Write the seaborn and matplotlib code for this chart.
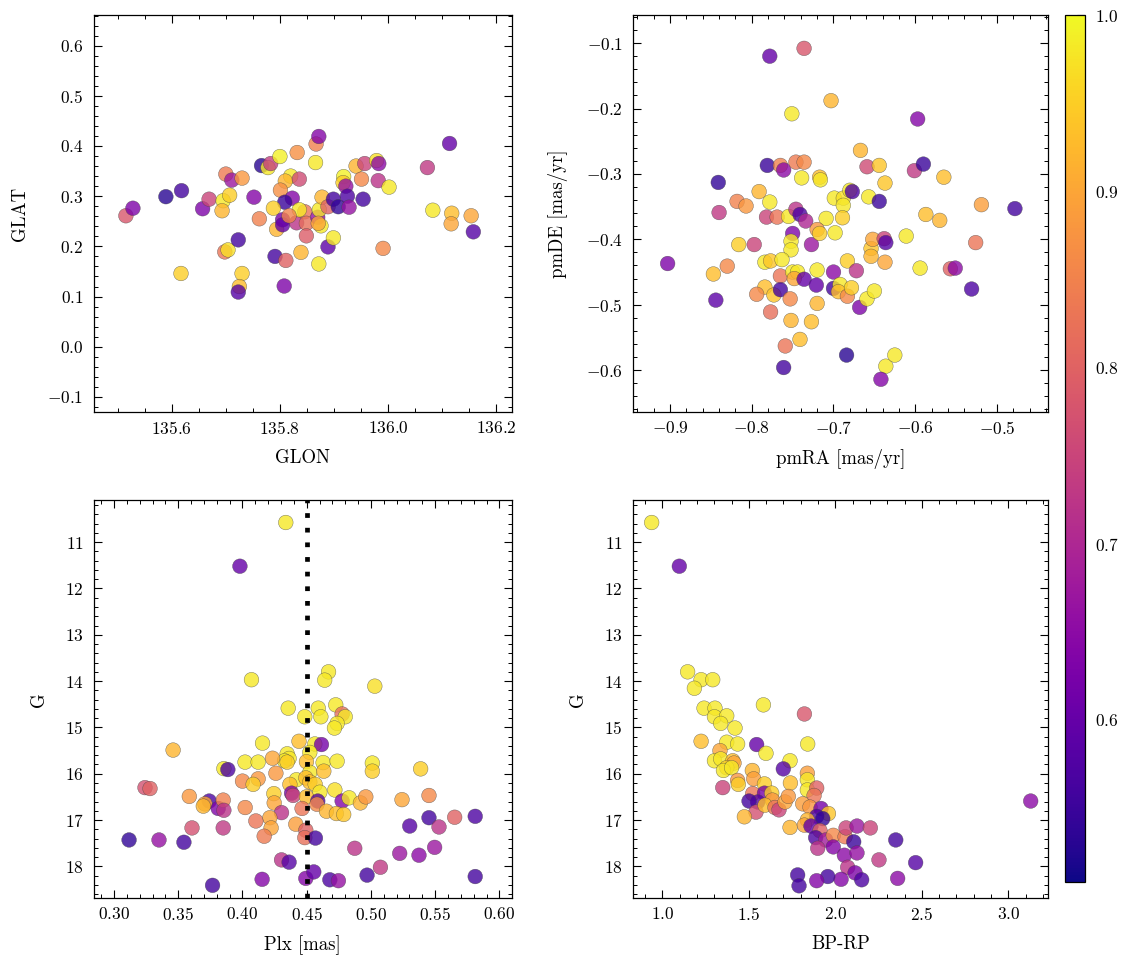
import matplotlib
matplotlib.use("Agg")
import matplotlib.pyplot as plt
import seaborn as sns
import pandas as pd
from matplotlib.colors import Normalize
from matplotlib.cm import ScalarMappable
from matplotlib.ticker import MultipleLocator, AutoMinorLocator

# ---------------- data ----------------
glon = [135.515, 135.528, 135.589, 135.618, 135.617, 135.657, 135.669, 135.695, 135.693, 135.707,
        135.700, 135.711, 135.730, 135.698, 135.704, 135.723, 135.730, 135.725, 135.723, 135.752,
        135.762, 135.766, 135.778, 135.783, 135.800, 135.832, 135.820, 135.810, 135.836, 135.801,
        135.823, 135.809, 135.788, 135.794, 135.791, 135.811, 135.808, 135.839, 135.805, 135.805,
        135.831, 135.846, 135.836, 135.849, 135.849, 135.817, 135.870, 135.873, 135.876, 135.871,
        135.866, 135.867, 135.872, 135.872, 135.878, 135.889, 135.899, 135.908, 135.889, 135.899,
        135.918, 135.917, 135.922, 135.925, 135.928, 135.941, 135.957, 135.951, 135.954, 135.979,
        135.983, 135.982, 136.002, 135.991, 136.073, 136.114, 136.083, 136.118, 136.117, 136.154,
        136.158]
glat = [0.261, 0.276, 0.299, 0.311, 0.146, 0.275, 0.294, 0.291, 0.271, 0.302,
        0.344, 0.332, 0.336, 0.189, 0.193, 0.213, 0.146, 0.120, 0.109, 0.298,
        0.255, 0.361, 0.357, 0.365, 0.379, 0.387, 0.340, 0.330, 0.334, 0.312,
        0.296, 0.288, 0.276, 0.234, 0.180, 0.172, 0.121, 0.188, 0.253, 0.243,
        0.247, 0.269, 0.273, 0.246, 0.221, 0.261, 0.258, 0.273, 0.241, 0.246,
        0.367, 0.404, 0.419, 0.165, 0.298, 0.279, 0.294, 0.279, 0.199, 0.217,
        0.339, 0.327, 0.320, 0.300, 0.278, 0.360, 0.365, 0.334, 0.294, 0.371,
        0.365, 0.331, 0.318, 0.196, 0.357, 0.405, 0.272, 0.266, 0.245, 0.261,
        0.229]
prob_sky = [0.78, 0.63, 0.53, 0.56, 0.95, 0.63, 0.75, 0.98, 0.92, 0.95,
            0.84, 0.67, 0.88, 0.83, 0.97, 0.56, 0.95, 0.93, 0.58, 0.64,
            0.85, 0.53, 0.98, 0.74, 0.99, 0.87, 0.98, 0.92, 0.76, 0.87,
            0.64, 0.55, 0.95, 0.92, 0.56, 0.80, 0.63, 0.92, 0.62, 0.60,
            0.72, 0.83, 0.98, 0.82, 0.79, 0.85, 0.66, 0.98, 0.98, 0.90,
            0.98, 0.85, 0.64, 0.98, 0.92, 0.80, 0.56, 0.54, 0.59, 0.98,
            0.99, 0.95, 0.66, 0.57, 0.66, 0.92, 0.75, 0.86, 0.56, 0.97,
            0.65, 0.72, 0.98, 0.86, 0.73, 0.60, 0.98, 0.93, 0.90, 0.90,
            0.58]

pmra = [-0.778, -0.736, -0.703, -0.751, -0.597, -0.667, -0.781, -0.765, -0.761, -0.746,
        -0.736, -0.739, -0.717, -0.716, -0.659, -0.644, -0.637, -0.601, -0.590, -0.565,
        -0.841, -0.791, -0.778, -0.818, -0.807, -0.840, -0.782, -0.769, -0.755, -0.746,
        -0.741, -0.734, -0.709, -0.699, -0.688, -0.688, -0.689, -0.680, -0.677, -0.657,
        -0.644, -0.587, -0.570, -0.519, -0.478, -0.750, -0.752, -0.752, -0.727, -0.720,
        -0.717, -0.698, -0.816, -0.797, -0.903, -0.847, -0.830, -0.784, -0.777, -0.763,
        -0.765, -0.750, -0.744, -0.748, -0.736, -0.720, -0.721, -0.700, -0.683, -0.672,
        -0.784, -0.794, -0.773, -0.765, -0.753, -0.844, -0.777, -0.720, -0.700, -0.692,
        -0.694, -0.683, -0.678, -0.668, -0.659, -0.650, -0.752, -0.727, -0.741, -0.759,
        -0.761, -0.684, -0.636, -0.625, -0.642, -0.654, -0.654, -0.652, -0.638, -0.636,
        -0.637, -0.611, -0.594, -0.557, -0.551, -0.531, -0.526]
pmde = [-0.120, -0.108, -0.188, -0.208, -0.216, -0.264, -0.287, -0.287, -0.294, -0.282,
        -0.282, -0.306, -0.305, -0.309, -0.289, -0.287, -0.314, -0.295, -0.285, -0.305,
        -0.313, -0.327, -0.343, -0.342, -0.349, -0.359, -0.366, -0.366, -0.365, -0.354,
        -0.362, -0.372, -0.368, -0.337, -0.337, -0.348, -0.367, -0.325, -0.327, -0.335,
        -0.342, -0.362, -0.371, -0.347, -0.353, -0.391, -0.403, -0.416, -0.408, -0.385,
        -0.391, -0.390, -0.408, -0.408, -0.437, -0.453, -0.441, -0.435, -0.433, -0.431,
        -0.456, -0.450, -0.450, -0.460, -0.461, -0.447, -0.470, -0.450, -0.433, -0.448,
        -0.473, -0.484, -0.485, -0.477, -0.491, -0.493, -0.511, -0.498, -0.475, -0.469,
        -0.480, -0.487, -0.474, -0.504, -0.491, -0.479, -0.524, -0.526, -0.553, -0.563,
        -0.596, -0.577, -0.594, -0.577, -0.614, -0.414, -0.426, -0.400, -0.399, -0.405,
        -0.435, -0.395, -0.444, -0.445, -0.444, -0.476, -0.405]
prob_pm = [0.60, 0.78, 0.92, 0.98, 0.64, 0.92, 0.55, 0.85, 0.65, 0.84,
           0.86, 0.98, 0.93, 0.98, 0.76, 0.94, 0.94, 0.73, 0.55, 0.93,
           0.54, 0.92, 0.98, 0.85, 0.88, 0.73, 0.75, 0.83, 0.98, 0.72,
           0.57, 0.70, 0.98, 0.98, 0.97, 0.98, 0.95, 0.98, 0.57, 0.98,
           0.55, 0.93, 0.92, 0.89, 0.56, 0.63, 0.98, 0.98, 0.67, 0.88,
           0.95, 0.98, 0.95, 0.75, 0.63, 0.93, 0.86, 0.98, 0.94, 0.98,
           0.83, 0.98, 0.98, 0.90, 0.60, 0.98, 0.60, 0.65, 0.95, 0.72,
           0.93, 0.86, 0.94, 0.56, 0.86, 0.59, 0.82, 0.92, 0.56, 0.98,
           0.93, 0.86, 0.95, 0.63, 0.98, 0.98, 0.92, 0.93, 0.93, 0.83,
           0.56, 0.53, 0.98, 0.98, 0.64, 0.94, 0.92, 0.90, 0.75, 0.58,
           0.90, 0.98, 0.98, 0.80, 0.65, 0.57, 0.83]

plx = [0.4337, 0.398, 0.407, 0.467, 0.464, 0.503, 0.4356, 0.459, 0.4726, 0.461,
       0.4485, 0.4776, 0.480, 0.4737, 0.4716, 0.4156, 0.444, 0.4563, 0.4615, 0.4524,
       0.346, 0.4348, 0.4363, 0.4327, 0.4498, 0.4628, 0.4737, 0.5011, 0.5011, 0.5387,
       0.4234, 0.4348, 0.402, 0.4122, 0.3855, 0.3886, 0.426, 0.4524, 0.4633, 0.400,
       0.4122, 0.4083, 0.442, 0.4493, 0.4369, 0.4524, 0.4566, 0.4602, 0.4719, 0.3241,
       0.328, 0.3586, 0.3741, 0.3708, 0.3695, 0.3811, 0.385, 0.3855, 0.4244, 0.4247,
       0.4382, 0.4394, 0.4498, 0.4586, 0.458, 0.4776, 0.483, 0.4918, 0.496, 0.5242,
       0.5452, 0.4021, 0.4304, 0.4213, 0.4223, 0.4104, 0.4169, 0.4415, 0.4464, 0.4654,
       0.4731, 0.4788, 0.4493, 0.4485, 0.4568, 0.3607, 0.385, 0.3117, 0.335, 0.3544,
       0.4304, 0.4363, 0.4153, 0.3767, 0.4493, 0.4555, 0.468, 0.4747, 0.4874, 0.497,
       0.5074, 0.5224, 0.5374, 0.5496, 0.5302, 0.5452, 0.553, 0.5652, 0.5812, 0.5812]
gmag_plx = [10.576, 11.52, 13.97, 13.80, 13.98, 14.11, 14.585, 14.585, 14.513, 14.77,
            14.77, 14.71, 14.77, 14.914, 15.014, 15.34, 15.30, 15.358, 15.37, 15.54,
            15.49, 15.57, 15.67, 15.72, 15.74, 15.76, 15.73, 15.77, 15.945, 15.895,
            15.666, 15.75, 15.75, 15.75, 15.89, 15.91, 15.99, 15.97, 15.945, 16.16,
            16.11, 16.23, 16.13, 16.09, 16.23, 16.18, 16.23, 16.40, 16.35, 16.30,
            16.32, 16.49, 16.59, 16.65, 16.70, 16.75, 16.57, 16.79, 16.43, 16.63,
            16.42, 16.47, 16.50, 16.59, 16.66, 16.59, 16.52, 16.63, 16.50, 16.56,
            16.47, 16.73, 16.84, 16.95, 17.17, 17.02, 17.35, 17.09, 16.75, 16.81,
            16.86, 16.88, 17.22, 17.38, 17.39, 17.17, 17.17, 17.43, 17.43, 17.48,
            17.86, 17.91, 18.28, 18.41, 18.26, 18.12, 18.29, 18.31, 17.61, 18.19,
            18.02, 17.72, 17.76, 17.59, 17.13, 16.95, 17.15, 16.94, 16.92, 18.22]
prob_plx = [0.98, 0.60, 0.98, 0.98, 0.98, 0.97, 0.98, 0.98, 0.98, 0.98,
            0.98, 0.82, 0.98, 0.98, 0.98, 0.98, 0.93, 0.98, 0.62, 0.98,
            0.92, 0.98, 0.98, 0.98, 0.93, 0.98, 0.98, 0.98, 0.95, 0.95,
            0.90, 0.95, 0.98, 0.98, 0.98, 0.57, 0.88, 0.98, 0.93, 0.86,
            0.88, 0.95, 0.98, 0.93, 0.93, 0.93, 0.95, 0.98, 0.97, 0.77,
            0.80, 0.88, 0.57, 0.90, 0.92, 0.63, 0.85, 0.72, 0.95, 0.90,
            0.63, 0.75, 0.93, 0.58, 0.86, 0.64, 0.98, 0.92, 0.88, 0.90,
            0.86, 0.86, 0.72, 0.90, 0.90, 0.83, 0.84, 0.89, 0.83, 0.92,
            0.93, 0.94, 0.80, 0.82, 0.56, 0.77, 0.73, 0.54, 0.66, 0.56,
            0.72, 0.58, 0.64, 0.56, 0.64, 0.60, 0.57, 0.66, 0.72, 0.56,
            0.73, 0.67, 0.65, 0.67, 0.58, 0.56, 0.72, 0.80, 0.57, 0.56]
plx_cut = 0.45

bprp = [0.938, 1.098, 1.146, 1.224, 1.291, 1.185, 1.241, 1.304, 1.301, 1.372,
        1.337, 1.42, 1.584, 1.821, 1.224, 1.372, 1.435, 1.545, 1.599, 1.84,
        1.333, 1.301, 1.337, 1.407, 1.414, 1.372, 1.353, 1.40, 1.435, 1.439,
        1.738, 1.699, 1.52, 1.528, 1.59, 1.74, 1.838, 1.838, 1.838, 1.892,
        1.877, 1.349, 1.522, 1.59, 1.632, 1.636, 1.551, 1.501, 1.541, 1.593,
        1.651, 1.674, 1.709, 1.728, 1.474, 1.811, 1.853, 1.917, 1.96, 1.892,
        1.927, 1.838, 1.738, 1.821, 1.859, 1.911, 1.886, 1.944, 1.988, 2.056,
        2.062, 2.125, 2.202, 2.106, 1.898, 1.988, 2.052, 2.125, 2.252, 2.349,
        2.464, 2.071, 2.114, 2.152, 2.033, 1.956, 1.892, 1.782, 1.79, 2.36,
        3.129]
gmag_cmd = [10.576, 11.52, 13.80, 13.97, 13.97, 14.155, 14.585, 14.585, 14.77, 14.75,
            14.914, 15.014, 14.513, 14.71, 15.30, 15.32, 15.358, 15.37, 15.56, 15.358,
            15.50, 15.72, 15.68, 15.72, 15.77, 15.87, 15.93, 15.87, 16.145, 16.23,
            15.72, 15.895, 15.93, 16.11, 16.22, 16.20, 15.99, 16.13, 16.35, 16.31,
            16.47, 16.30, 16.43, 16.42, 16.42, 16.57, 16.61, 16.59, 16.83, 16.68,
            16.73, 16.78, 16.61, 16.49, 16.93, 16.65, 16.72, 16.75, 16.86, 16.92,
            16.97, 17.00, 17.16, 17.11, 17.13, 17.23, 17.38, 17.43, 17.33, 17.36,
            17.17, 17.13, 17.17, 17.47, 17.61, 17.58, 17.76, 17.71, 17.86, 17.43,
            17.92, 18.02, 18.14, 18.29, 18.28, 18.22, 18.31, 18.185, 18.42, 18.26,
            16.59]
prob_cmd = [0.98, 0.60, 0.98, 0.98, 0.98, 0.98, 0.98, 0.98, 0.98, 0.98,
            0.98, 0.98, 0.98, 0.78, 0.93, 0.98, 0.98, 0.60, 0.98, 0.98,
            0.90, 0.98, 0.98, 0.93, 0.90, 0.95, 0.98, 0.98, 0.88, 0.95,
            0.98, 0.58, 0.92, 0.89, 0.95, 0.93, 0.89, 0.98, 0.98, 0.80,
            0.83, 0.75, 0.83, 0.62, 0.95, 0.88, 0.58, 0.56, 0.77, 0.93,
            0.83, 0.75, 0.90, 0.88, 0.92, 0.89, 0.88, 0.62, 0.94, 0.57,
            0.54, 0.92, 0.92, 0.90, 0.60, 0.80, 0.57, 0.68, 0.86, 0.84,
            0.75, 0.67, 0.75, 0.55, 0.72, 0.64, 0.65, 0.66, 0.73, 0.56,
            0.58, 0.72, 0.63, 0.57, 0.64, 0.56, 0.64, 0.56, 0.56, 0.65,
            0.65]

prob_min, prob_max = 0.508, 1.0

# ---------------- style ----------------
sns.set_theme(style="white")
TICK_FS = 12.5
LABEL_FS = 13.5
plt.rcParams.update({
    "font.family": "serif",
    "font.serif": ["cmr10"],
    "mathtext.fontset": "cm",
    "axes.formatter.use_mathtext": True,
    "axes.unicode_minus": True,
    "font.size": TICK_FS,
    "axes.labelsize": LABEL_FS,
    "xtick.labelsize": TICK_FS,
    "ytick.labelsize": TICK_FS,
    "axes.edgecolor": "black",
    "axes.linewidth": 0.9,
    "xtick.direction": "in",
    "ytick.direction": "in",
    "xtick.top": True,
    "ytick.right": True,
    "xtick.bottom": True,
    "ytick.left": True,
    "xtick.major.size": 5.5,
    "ytick.major.size": 5.5,
    "xtick.minor.size": 2.8,
    "ytick.minor.size": 2.8,
    "xtick.major.width": 0.8,
    "ytick.major.width": 0.8,
    "xtick.minor.width": 0.7,
    "ytick.minor.width": 0.7,
    "xtick.major.pad": 5.5,
    "xtick.minor.pad": 5.5,
    "ytick.major.pad": 7.5,
    "ytick.minor.pad": 7.5,
    "xtick.color": "black",
    "ytick.color": "black",
    "axes.labelcolor": "black",
})

W, H = 1133, 965
fig = plt.figure(figsize=(W / 100, H / 100), dpi=100)

def rect(x0, y0, x1, y1):
    return [x0 / W, 1 - y1 / H, (x1 - x0) / W, (y1 - y0) / H]

ax1 = fig.add_axes(rect(94, 15, 511.7, 412))
ax2 = fig.add_axes(rect(633.3, 15, 1048, 412))
ax3 = fig.add_axes(rect(94, 500, 511.7, 898.3))
ax4 = fig.add_axes(rect(633.3, 500, 1048, 898.3))
cax = fig.add_axes(rect(1065, 15, 1085, 882))

norm = (prob_min, prob_max)
kw = dict(palette="plasma", hue_norm=norm, s=112, alpha=0.8,
          edgecolor="#444444", linewidth=0.3, legend=False)

df1 = pd.DataFrame({"GLON": glon, "GLAT": glat, "p": prob_sky})
df2 = pd.DataFrame({"pmRA": pmra, "pmDE": pmde, "p": prob_pm})
df3 = pd.DataFrame({"Plx": plx, "G": gmag_plx, "p": prob_plx})
df4 = pd.DataFrame({"BPRP": bprp, "G": gmag_cmd, "p": prob_cmd})

sns.scatterplot(data=df1, x="GLON", y="GLAT", hue="p", ax=ax1, **kw)
sns.scatterplot(data=df2, x="pmRA", y="pmDE", hue="p", ax=ax2, **kw)
sns.scatterplot(data=df3, x="Plx", y="G", hue="p", ax=ax3, **kw)
sns.scatterplot(data=df4, x="BPRP", y="G", hue="p", ax=ax4, **kw)

ax3.axvline(plx_cut, color="black", linewidth=3.4, linestyle=(0, (1, 2.1)), zorder=5)

ax1.set_xlim(135.456, 136.229)
ax1.set_ylim(-0.13, 0.661)
ax1.xaxis.set_major_locator(MultipleLocator(0.2))
ax1.yaxis.set_major_locator(MultipleLocator(0.1))
ax1.ticklabel_format(useOffset=False)
ax1.set_xlabel("GLON", labelpad=9)
ax1.set_ylabel("GLAT", labelpad=13)

ax2.set_xlim(-0.945, -0.4375)
ax2.set_ylim(-0.664, -0.057)
ax2.xaxis.set_major_locator(MultipleLocator(0.1))
ax2.yaxis.set_major_locator(MultipleLocator(0.1))
ax2.set_xlabel("pmRA [mas/yr]", labelpad=9)
ax2.set_ylabel("pmDE [mas/yr]", labelpad=13)

ax3.set_xlim(0.2844, 0.6096)
ax3.set_ylim(18.69, 10.09)
ax3.xaxis.set_major_locator(MultipleLocator(0.05))
ax3.yaxis.set_major_locator(MultipleLocator(1))
ax3.set_xlabel("Plx [mas]", labelpad=9)
ax3.set_ylabel("G", labelpad=12)

ax4.set_xlim(0.832, 3.229)
ax4.set_ylim(18.69, 10.09)
ax4.xaxis.set_major_locator(MultipleLocator(0.5))
ax4.yaxis.set_major_locator(MultipleLocator(1))
ax4.set_xlabel("BP-RP", labelpad=9)
ax4.set_ylabel("G", labelpad=12)

for ax in (ax1, ax2, ax3, ax4):
    ax.xaxis.set_minor_locator(AutoMinorLocator())
    ax.yaxis.set_minor_locator(AutoMinorLocator())
    ax.tick_params(which="both", direction="in", top=True, right=True)
    for sp in ax.spines.values():
        sp.set_linewidth(0.9)
        sp.set_color("black")

sm = ScalarMappable(norm=Normalize(prob_min, prob_max), cmap="plasma")
cb = fig.colorbar(sm, cax=cax)
cb.set_ticks([0.6, 0.7, 0.8, 0.9, 1.0])
cb.ax.yaxis.set_minor_locator(MultipleLocator(0.02))
cb.ax.tick_params(which="both", direction="in", pad=7)
cb.outline.set_linewidth(0.9)

fig.savefig("out.png", dpi=100)
